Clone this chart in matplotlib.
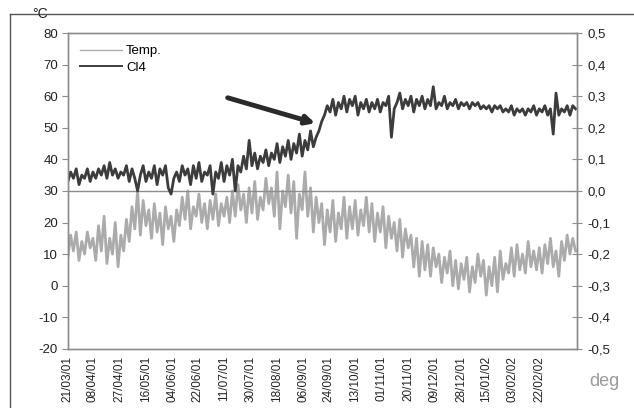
import matplotlib
matplotlib.use('Agg')
import matplotlib.pyplot as plt
from matplotlib.lines import Line2D
import pandas as pd

plt.rcParams['font.family'] = ['Liberation Sans', 'DejaVu Sans']

# temperature, degC, every 2 days from 21/03/01
temp = [9, 16, 11, 17, 8, 14, 10, 17, 12, 15,
        8, 19, 11, 22, 7, 15, 10, 20, 6, 16,
        11, 21, 14, 25, 18, 30, 16, 27, 19, 24,
        15, 26, 17, 23, 13, 25, 18, 22, 14, 24,
        19, 28, 21, 30, 18, 25, 22, 29, 20, 26,
        18, 27, 21, 29, 19, 26, 22, 28, 20, 30,
        22, 32, 24, 29, 20, 31, 23, 33, 21, 28,
        24, 34, 26, 31, 22, 36, 18, 30, 25, 35,
        23, 33, 15, 29, 24, 36, 22, 31, 17, 28,
        20, 26, 13, 24, 17, 27, 14, 23, 18, 28,
        15, 25, 18, 27, 16, 24, 19, 28, 17, 26,
        14, 23, 17, 25, 12, 22, 15, 20, 11, 21,
        9, 18, 12, 16, 6, 15, 3, 14, 5, 13,
        3, 12, 6, 10, 1, 9, 4, 11, 0, 8,
        -1, 7, 2, 9, -2, 6, 1, 10, 3, 8,
        -3, 6, 0, 9, -2, 11, 2, 7, 4, 12,
        3, 13, 5, 10, 4, 14, 6, 11, 5, 12,
        4, 13, 7, 15, 6, 11, 3, 14, 8, 16,
        10, 15, 11]

# Cl4 inclination, deg, same days
cl4 = [0.03, 0.06, 0.04, 0.07, 0.02, 0.05, 0.04, 0.07, 0.03, 0.06,
       0.04, 0.07, 0.05, 0.08, 0.04, 0.09, 0.05, 0.07, 0.04, 0.06,
       0.05, 0.08, 0.03, 0.07, 0.04, 0.00, 0.05, 0.08, 0.03, 0.06,
       0.04, 0.08, 0.02, 0.07, 0.05, 0.08, 0.01, -0.01, 0.04, 0.06,
       0.03, 0.08, 0.05, 0.07, 0.02, 0.08, 0.04, 0.09, 0.03, 0.06,
       0.05, 0.08, -0.01, 0.06, 0.04, 0.09, 0.03, 0.08, 0.05, 0.10,
       0.00, 0.08, 0.06, 0.11, 0.07, 0.16, 0.08, 0.12, 0.07, 0.11,
       0.09, 0.13, 0.08, 0.12, 0.10, 0.15, 0.09, 0.14, 0.11, 0.16,
       0.10, 0.15, 0.12, 0.18, 0.11, 0.16, 0.13, 0.19, 0.14, 0.17,
       0.19, 0.22, 0.24, 0.27, 0.25, 0.29, 0.24, 0.28, 0.26, 0.30,
       0.25, 0.29, 0.27, 0.30, 0.24, 0.28, 0.26, 0.29, 0.25, 0.28,
       0.26, 0.29, 0.25, 0.28, 0.27, 0.30, 0.17, 0.26, 0.28, 0.31,
       0.26, 0.29, 0.27, 0.30, 0.25, 0.29, 0.27, 0.30, 0.26, 0.29,
       0.27, 0.33, 0.26, 0.28, 0.27, 0.30, 0.26, 0.28, 0.27, 0.29,
       0.26, 0.28, 0.27, 0.28, 0.26, 0.28, 0.27, 0.28, 0.26, 0.27,
       0.26, 0.27, 0.25, 0.27, 0.26, 0.27, 0.25, 0.26, 0.25, 0.27,
       0.24, 0.26, 0.25, 0.26, 0.24, 0.26, 0.25, 0.27, 0.24, 0.26,
       0.25, 0.27, 0.24, 0.26, 0.18, 0.31, 0.24, 0.26, 0.25, 0.27,
       0.24, 0.27, 0.26]

tick_dates = ['2001-03-21', '2001-04-08', '2001-04-27', '2001-05-16', '2001-06-04',
              '2001-06-22', '2001-07-11', '2001-07-30', '2001-08-18', '2001-09-06',
              '2001-09-24', '2001-10-13', '2001-11-01', '2001-11-20', '2001-12-09',
              '2001-12-28', '2002-01-15', '2002-02-03', '2002-02-22']
left_ticks = [-20, -10, 0, 10, 20, 30, 40, 50, 60, 70, 80]
right_ticks = [-0.5, -0.4, -0.3, -0.2, -0.1, 0.0, 0.1, 0.2, 0.3, 0.4, 0.5]

days = pd.date_range('2001-03-21', periods=len(temp), freq='2D')
ticks = pd.to_datetime(tick_dates)

fig = plt.figure(figsize=(6.34, 4.08), dpi=100)
ax = fig.add_axes([0.107, 0.145, 0.803, 0.774])
ax2 = ax.twinx()

c_temp = '#ababab'
c_cl4 = '#3c3c3c'
c_axis = '#8c8c8c'

ax.plot(days, temp, color=c_temp, lw=2.0)
ax2.plot(days, cl4, color=c_cl4, lw=2.0)
ax.axhline(30, color=c_axis, lw=1)

ax.set_ylim(-20, 80)
ax2.set_ylim(-0.5, 0.5)
ax.set_xlim(days[0], pd.Timestamp('2002-03-21'))
ax.set_yticks(left_ticks)
ax.set_yticklabels([str(t) for t in left_ticks], fontsize=9.5, color='#222222')
ax2.set_yticks(right_ticks)
ax2.set_yticklabels([f'{t:.1f}'.replace('.', ',') for t in right_ticks],
                    fontsize=9.5, color='#222222')
ax.set_xticks(ticks)
ax.set_xticklabels([d.strftime('%d/%m/%y') for d in ticks], rotation=90,
                   fontsize=8.5, color='#222222')

ax.tick_params(axis='y', direction='out', length=4, color=c_axis, pad=3)
ax.tick_params(axis='x', length=0, pad=5)
ax2.tick_params(axis='y', direction='inout', length=7, color=c_axis, pad=4)
for a in (ax, ax2):
    for s in a.spines.values():
        s.set_color(c_axis)
        s.set_linewidth(1)

handles = [Line2D([], [], color=c_temp, lw=1), Line2D([], [], color=c_cl4, lw=1.4)]
ax2.legend(handles, ['Temp.', 'Cl4'], loc='upper left', frameon=False,
           fontsize=9.5, handlelength=3.2, handletextpad=0.3,
           labelspacing=0.35, bbox_to_anchor=(0.0, 1.0))

ax2.annotate('', xy=(318, 284), xytext=(225, 311),
             xycoords='figure pixels', textcoords='figure pixels',
             arrowprops=dict(arrowstyle='-|>', color='#2a2a2a', lw=3.5,
                             mutation_scale=13))

fig.text(0.063, 0.983, '°C', fontsize=10, va='top', ha='center', color='#222222')
fig.text(0.93, 0.055, 'deg', fontsize=13, color='#9a9a9a')

fig.add_artist(Line2D([0.016, 1.0], [0.966, 0.966], color='#555555', lw=1))
fig.add_artist(Line2D([0.016, 0.016], [0.0, 0.966], color='#555555', lw=1))

fig.savefig('out.png', dpi=100)
